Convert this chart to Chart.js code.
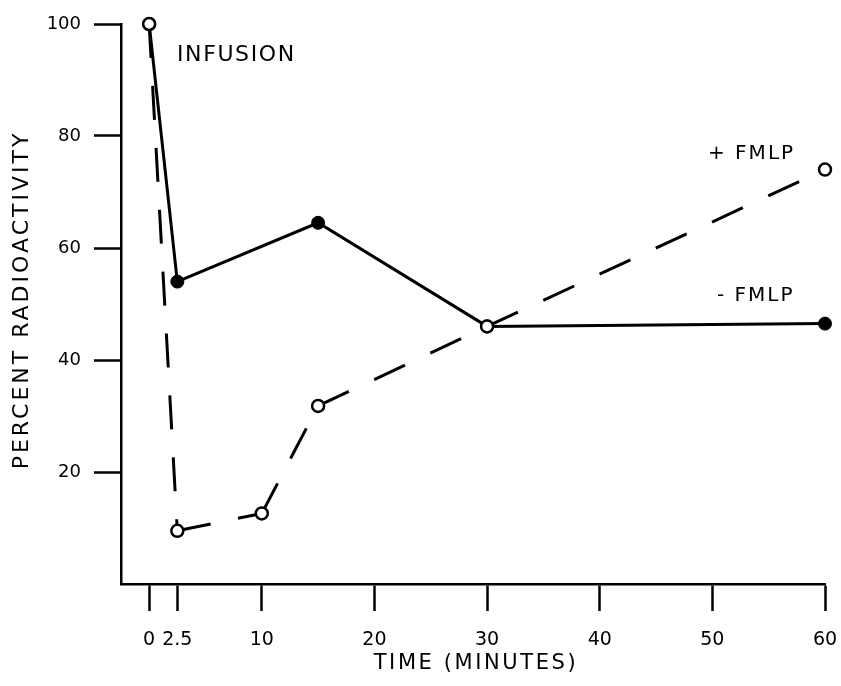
<!DOCTYPE html>
<html><head><meta charset="utf-8">
<script src="https://cdn.jsdelivr.net/npm/chart.js@4/dist/chart.umd.min.js"></script>
<style>html,body{margin:0;padding:0;background:#fff}</style>
</head><body>
<canvas id="c" width="841" height="686"></canvas>
<script>
// ---- data ----
const timeMinus   = [0, 2.5, 15, 30, 60];
const valuesMinus = [100, 54, 64.5, 46, 46.5];
const timePlus    = [0, 2.5, 10, 15, 30, 60];
const valuesPlus  = [100, 9.5, 12.6, 31.8, 46, 74];
const xTicks = [0, 2.5, 10, 20, 30, 40, 50, 60];
const yTicks = [20, 40, 60, 80, 100];
const xTitle = 'TIME (MINUTES)';
const yTitle = 'PERCENT RADIOACTIVITY';
const labelMinus = '- FMLP';
const labelPlus = '+ FMLP';
const labelInfusion = 'INFUSION';

const FONT = '"DejaVu Sans", sans-serif';

const textPlugin = {
  id: 'txt',
  afterDraw(chart) {
    const c = chart.ctx;
    const ca = chart.chartArea;
    c.save();
    c.fillStyle = '#000';
    c.textBaseline = 'middle';
    // x title
    c.letterSpacing = '2.6px';
    c.font = '21px ' + FONT;
    c.textAlign = 'center';
    c.fillText(xTitle, 476, 664);
    // y title
    c.save();
    c.translate(22, 300);
    c.rotate(-Math.PI / 2);
    c.letterSpacing = '3px';
    c.font = '22px ' + FONT;
    c.fillText(yTitle, 0, 0);
    c.restore();
    // annotations
    c.textAlign = 'left';
    c.letterSpacing = '1.6px';
    c.font = '22px ' + FONT;
    c.fillText(labelInfusion, 177, 55);
    c.letterSpacing = '2px';
    c.font = '20px ' + FONT;
    c.fillText(labelPlus, 708, 154);
    c.fillText(labelMinus, 717, 296);
    c.restore();
  }
};

// restart the dash pattern at the start of every segment
const segDash = { borderDashOffset: ctx => ctx.p0DataIndex * 0.001 };

new Chart(document.getElementById('c'), {
  type: 'line',
  data: {
    datasets: [
      {
        label: labelMinus,
        data: timeMinus.map((t, i) => ({ x: t, y: valuesMinus[i] })),
        borderColor: '#000',
        borderWidth: 3,
        pointRadius: 6.5,
        pointBackgroundColor: '#000',
        pointBorderColor: '#000',
        pointBorderWidth: 1,
        tension: 0,
        clip: false,
        order: 2
      },
      {
        label: labelPlus,
        data: timePlus.map((t, i) => ({ x: t, y: valuesPlus[i] })),
        borderColor: '#000',
        borderWidth: 3,
        borderDash: [34, 28],
        segment: segDash,
        pointRadius: 6,
        pointBackgroundColor: '#fff',
        pointBorderColor: '#000',
        pointBorderWidth: 2.5,
        tension: 0,
        clip: false,
        order: 1
      }
    ]
  },
  options: {
    responsive: false,
    animation: false,
    events: [],
    layout: { padding: { left: 0, right: 16, top: 24, bottom: 0 } },
    plugins: { legend: { display: false }, tooltip: { enabled: false }, title: { display: false } },
    scales: {
      x: {
        type: 'linear',
        min: -2.5,
        max: 60,
        afterBuildTicks: s => { s.ticks = xTicks.map(v => ({ value: v })); },
        afterFit: s => { s.height = 102; s.paddingLeft = 0; s.paddingRight = 0; },
        grid: { display: true, drawOnChartArea: false, drawTicks: true, tickLength: 27, tickWidth: 2.5, tickColor: '#000' },
        border: { display: true, color: '#000', width: 2.5 },
        ticks: { color: '#000', font: { family: FONT, size: 19 }, padding: 18, maxRotation: 0, autoSkip: false, callback: v => String(v) }
      },
      y: {
        min: 0,
        max: 100,
        afterBuildTicks: s => { s.ticks = yTicks.map(v => ({ value: v })); },
        afterFit: s => { s.width = 121; s.paddingTop = 0; s.paddingBottom = 0; },
        grid: { display: true, drawOnChartArea: false, drawTicks: true, tickLength: 27, tickWidth: 2.5, tickColor: '#000' },
        border: { display: true, color: '#000', width: 2.5 },
        ticks: { color: '#000', font: { family: FONT, size: 18 }, padding: 13, autoSkip: false, callback: v => String(v) }
      }
    }
  },
  plugins: [textPlugin]
});
</script>
</body></html>
